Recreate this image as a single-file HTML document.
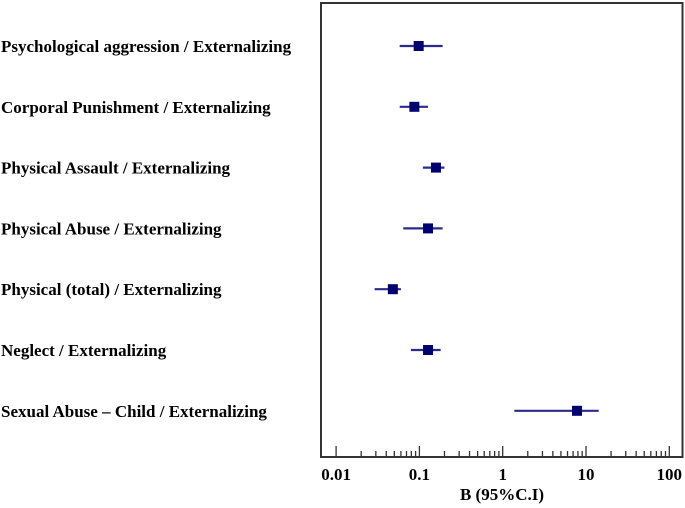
<!DOCTYPE html>
<html><head><meta charset="utf-8"><style>
html,body{margin:0;padding:0;background:#fff;}
svg{display:block;font-family:"Liberation Serif",serif;font-weight:bold;}
</style></head><body>
<svg width="685" height="508" viewBox="0 0 685 508">
<g id="labels"></g>
<rect x="321" y="3" width="361.5" height="454" fill="none" stroke="#333" stroke-width="2"/>
<g id="axis"></g>
<g id="marks"></g>
<text x="502" y="500" text-anchor="middle" font-size="17">B (95%C.I)</text>
</svg>
<script>
const categories=["Psychological aggression / Externalizing","Corporal Punishment / Externalizing","Physical Assault / Externalizing","Physical Abuse / Externalizing","Physical (total) / Externalizing","Neglect / Externalizing","Sexual Abuse \u2013 Child / Externalizing"];
const estimates=[0.098,0.087,0.158,0.127,0.048,0.127,7.8];
const lower=[0.058,0.058,0.11,0.064,0.029,0.079,1.38];
const upper=[0.19,0.127,0.20,0.19,0.060,0.18,14.2];
const tickValues=[0.01,0.1,1,10,100];
const tickLabels=["0.01","0.1","1","10","100"];
const NS="http://www.w3.org/2000/svg";
function x(v){return 502.7+83.3*Math.log10(v);}
function y(i){return 46+i*60.8;}
function mk(t,a,p){const e=document.createElementNS(NS,t);for(const k in a)e.setAttribute(k,a[k]);p.appendChild(e);return e;}
const labels=document.getElementById('labels'),axis=document.getElementById('axis'),marks=document.getElementById('marks');
categories.forEach((c,i)=>{
 const t=mk('text',{x:1,y:y(i)+6,'font-size':17},labels);t.textContent=c;
 
 
 const l=mk('line',{x1:x(lower[i]),x2:x(upper[i]),y1:y(i),y2:y(i),stroke:'#2b2b8c','stroke-width':2.2},marks);
 
 
 const r=mk('rect',{x:x(estimates[i])-5,y:y(i)-5,width:10,height:10,fill:'#00006e'},marks);
 
 
});
for(let d=-2;d<2;d++){for(let m=1;m<10;m++){const v=m*Math.pow(10,d);
 const tk=mk('line',{x1:x(v),x2:x(v),y1:m==1?446:451,y2:457,stroke:'#333','stroke-width':1.3},axis);
 
 }}
const last=mk('line',{x1:x(100),x2:x(100),y1:446,y2:457,stroke:'#333','stroke-width':1.3},axis);


tickValues.forEach((v,i)=>{const t=mk('text',{x:x(v),y:480,'text-anchor':'middle','font-size':17},axis);t.textContent=tickLabels[i];
 
 });
</script>
</body></html>
